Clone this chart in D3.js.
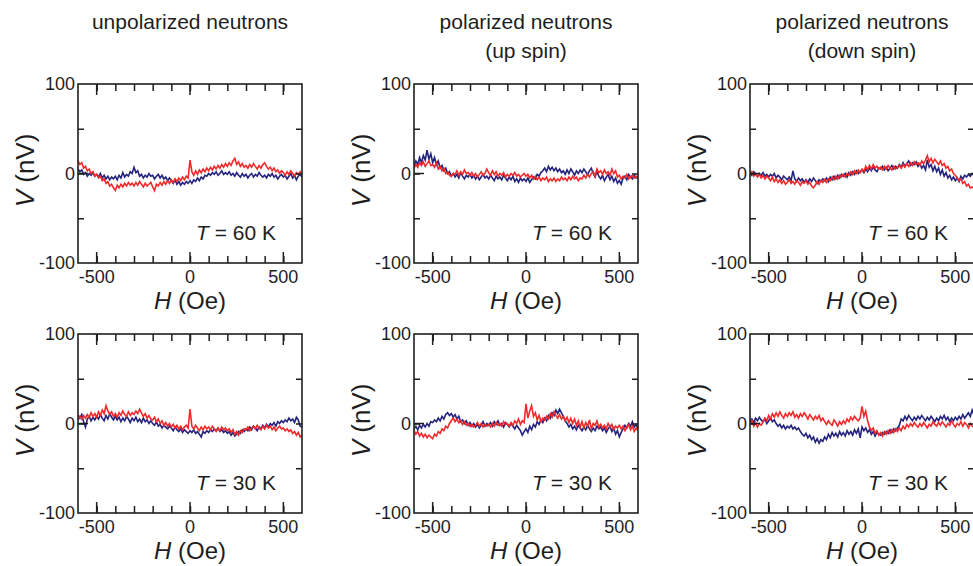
<!DOCTYPE html>
<html><head><meta charset="utf-8">
<script src="https://cdn.jsdelivr.net/npm/d3@7"></script>
<style>
html,body{margin:0;padding:0;background:#fff;}
svg{display:block;font-family:"Liberation Sans",Arial,sans-serif;}
</style></head>
<body><svg id="c" width="973" height="566"></svg>
<script>
// Field grid (Oe), sampled every 10 Oe from -600 to 600
const H = d3.range(-600, 601, 10);
const columnTitles = [["unpolarized neutrons"], ["polarized neutrons", "(up spin)"], ["polarized neutrons", "(down spin)"]];
const rowTemps = ["60", "30"];
const xTickLabels = [-500, 0, 500];
const yTickLabels = [100, 0, -100];

// V (nV) — blue and red traces per panel
const p1b = [5,2,4,-1,1,-3,0,-2,1,-3, -1,-4,0,-5,-2,-6,-3,-7,-4,-6, -3,-7,-2,-5,1,-4,-1,-3,2,0, 7,1,3,-3,-1,-5,-2,-4,0,-3, -2,-6,-3,-1,-5,-2,-6,-4,-8,-5, -8,-11,-7,-12,-9,-13,-10,-12,-9,-11, -8,-11,-7,-9,-5,-8,-4,-6,-2,-3, 0,-2,1,-1,2,-2,0,3,-1,1, -1,2,-2,0,-3,1,-2,-4,0,-3, -1,-5,-2,0,-4,-1,-3,1,-2,-4, -2,-5,-1,-3,0,-4,-2,-6,-3,-1, -4,-2,-6,-3,0,-5,-2,-7,-3,-1, -4];
const p1r = [14,10,12,6,8,3,5,0,2,-3, -1,-5,-3,-8,-6,-11,-9,-14,-12,-16, -19,-13,-16,-12,-15,-11,-14,-10,-13,-11, -14,-10,-13,-9,-12,-15,-11,-14,-12,-10, -15,-19,-12,-14,-10,-13,-9,-12,-8,-11, -7,-10,-6,-9,-5,-8,-4,-7,-3,-5, 15,2,-2,3,-1,4,1,5,2,6, 3,7,4,8,5,9,6,10,7,11, 8,12,9,14,17,10,13,8,11,7, 9,6,10,7,11,8,5,9,6,10, 12,8,5,7,3,6,2,4,0,3, 1,-2,2,-1,3,0,-3,1,-1,2, 0];
const p2b = [8,14,10,18,12,20,15,26,16,22, 12,18,10,14,6,9,3,6,0,2, -3,0,-4,-1,-5,1,-3,-6,-2,-4, -1,-5,-2,-6,-3,-7,-4,-1,-5,-3, -6,-2,-5,-8,-3,-6,-4,-7,-2,-5, -8,-4,-7,-3,-9,-6,-10,-5,-8,-6, -9,-5,-10,-7,-4,-6,-1,-3,1,3, 6,2,8,4,7,3,6,2,5,1, 3,-1,4,0,5,2,-2,3,0,4, 1,5,2,-1,3,6,0,-4,2,-3, -6,-2,-8,-4,-1,-7,-3,-9,-5,-11, -8,-12,-5,-3,-7,-1,-4,-6,-2,-5, -4];
const p2r = [6,10,7,12,9,13,8,11,14,9, 10,7,12,5,8,3,6,0,2,-2, -3,0,-1,3,-2,2,-1,4,0,1, -2,1,-3,0,-4,-1,2,-2,0,5, 1,-2,3,-1,2,-3,0,-2,1,-4, -1,-3,0,-2,1,-3,-1,-4,-2,0, -3,-1,-5,-2,-6,-3,-7,-4,-8,-5, -7,-4,-9,-6,-8,-5,-9,-6,-8,-4, -7,-5,-8,-4,-7,-3,-6,-4,-8,-5, -6,-2,-5,-1,-4,0,2,-3,5,1, 3,-1,4,0,2,-2,5,0,3,-4, -2,-6,-3,-5,-1,-6,-4,-2,-5,-3, -6];
const p3b = [1,-2,2,-1,-3,0,-2,1,-3,-1, -4,-1,-3,0,-5,-2,-4,-7,-3,-5, -7,-4,-8,3,-6,-9,-5,-8,-6,-10, -7,-10,-6,-9,-5,-8,-11,-7,-9,-6, -8,-5,-9,-4,-7,-3,-6,-2,-5,-1, -3,0,-4,1,-2,2,-1,3,0,2, 4,1,5,2,6,3,7,4,2,6, 5,8,4,7,3,6,9,5,8,6, 10,7,12,8,11,14,9,12,10,13, 8,11,6,9,4,15,7,10,3,8, 2,6,-1,4,-3,1,-5,-2,-7,-4, -8,-5,-9,-3,-6,-2,-4,-1,-3,0, -2];
const p3r = [-1,2,-3,0,-4,-1,-5,-2,-6,-3, -5,-8,-4,-9,-6,-10,-7,-11,-8,-12, -10,-7,-11,-9,-12,-8,-10,-13,-9,-11, -8,-12,-10,-14,-16,-13,-9,-12,-8,-10, -7,-10,-6,-8,-4,-7,-3,-6,-2,-4, -1,-4,0,-2,2,-1,3,0,4,1, 5,2,8,4,9,5,10,6,8,5, 7,4,8,5,9,6,4,8,5,7, 9,6,10,7,11,8,12,9,13,10, 12,9,14,11,15,20,13,17,12,16, 13,10,14,9,11,6,8,3,5,0, -2,-5,-8,-6,-11,-9,-14,-12,-16,-15, -17];
const p4b = [9,6,10,2,-4,5,8,3,7,4, 8,5,10,6,3,9,5,11,7,4, 8,4,7,2,6,3,8,5,1,6, 3,7,2,5,1,6,2,4,0,3, 0,-2,2,-3,-1,-5,-2,-4,-6,-3, -5,-8,-4,-7,-9,-6,-10,-7,-9,-11, -8,-10,-7,-11,-9,-12,-15,-9,-11,-8, -10,-7,-9,-6,-8,-5,-9,-7,-10,-8, -11,-9,-13,-10,-14,-12,-9,-11,-7,-9, -6,-8,-4,-7,-3,-5,-8,-4,-6,-2, -5,-1,-4,0,-2,1,-3,2,0,3, 1,4,2,6,3,5,1,7,4,-3, -4];
const p4r = [4,8,5,9,6,10,7,12,8,11, 7,13,9,15,11,20,14,10,13,8, 11,7,12,9,14,10,8,13,9,12, 10,14,11,16,12,8,11,6,9,5, 4,7,2,5,0,3,-2,1,-3,0, -4,-1,-5,-2,-6,-3,-7,-4,-2,-5, 16,-3,-6,-2,-5,-8,-4,-7,-3,-6, -4,-7,-3,-6,-9,-5,-8,-4,-7,-5, -8,-6,-10,-7,-12,-9,-13,-8,-10,-6, -7,-4,-8,-5,-3,-6,-2,-5,-7,-3, -6,-2,-5,-3,-7,-4,-8,-5,-3,-6, -5,-8,-6,-9,-7,-11,-9,-13,-10,-15, -13];
const p5b = [-6,-3,-7,-2,-5,-1,-4,0,-3,2, 1,4,2,6,3,8,5,10,12,9, 11,7,10,5,8,2,4,0,3,-2, 1,-3,0,-4,-1,-5,-2,2,-3,0, -2,1,-3,2,-1,3,-2,0,-4,1, -1,-4,0,-3,-6,-2,-5,-8,-13,-9, -6,-10,-3,-7,-1,-4,2,-1,4,1, 6,3,9,6,12,9,15,11,16,12, 8,3,0,-4,-1,-6,-3,-7,-2,-5, -8,-4,-7,-2,-6,-9,-5,-8,-3,-6, -4,-8,-5,-10,-6,-3,-9,-5,-12,-8, -15,-10,-6,-2,-5,0,-3,2,-4,-1, -6];
const p5r = [-8,-12,-9,-14,-11,-15,-12,-16,-13,-15, -17,-12,-14,-9,-11,-6,-8,-3,-5,0, 3,6,2,5,1,3,-1,2,-2,0, -3,-1,-4,-2,1,-3,0,-4,-1,-3, -1,-4,0,-3,1,-2,0,-3,2,-1, 0,-3,1,-2,3,0,5,-1,3,1, 22,6,14,20,8,12,4,9,2,6, 4,8,5,11,7,13,9,6,10,5, 8,3,7,1,6,0,5,-2,3,-4, 2,-5,1,-3,4,-6,0,-2,3,-4, -1,-5,-2,-6,0,-4,-1,-7,-3,-5, -2,-6,-3,-8,-4,-1,-7,-3,-9,-5, -8];
const p6b = [2,5,1,6,3,7,4,2,5,0, 3,6,2,4,0,-3,-1,-5,-2,-6, -3,-5,-2,-6,-4,-7,-5,-9,-12,-14, -11,-16,-13,-18,-15,-21,-17,-22,-18,-20, -15,-18,-12,-16,-10,-14,-11,-15,-9,-13, -10,-14,-8,-12,-9,-13,-7,-11,-6,-16, -4,-8,-5,-10,-7,-12,-9,-14,-10,-12, -13,-10,-12,-9,-11,-7,-10,-6,-8,-5, -2,5,3,8,4,9,6,3,7,4, 8,5,9,6,3,7,4,8,5,2, 6,3,8,5,9,4,7,2,6,3, 7,4,8,5,10,6,9,12,8,15, 9];
const p6r = [-2,3,-3,1,-4,0,-2,2,6,3, 9,5,11,7,12,8,13,9,6,11, 8,12,9,13,7,10,6,11,8,12, 9,5,10,7,4,8,5,9,3,6, 2,-1,3,0,-2,4,1,-3,2,-1, 3,0,5,2,7,4,8,5,3,6, 19,8,14,3,-4,-8,-5,-11,-8,-13, -10,-14,-9,-12,-8,-11,-7,-10,-6,-9, -5,-8,-3,-6,-1,-4,0,-3,1,-2, -4,0,-3,1,-2,-5,-1,-3,2,-1, -3,1,-2,2,-1,-4,0,-2,3,-1, -4,0,-2,2,-3,1,-1,-5,0,-3, -4];

const panels = [
  {row:0,col:0,blue:p1b,red:p1r},{row:0,col:1,blue:p2b,red:p2r},{row:0,col:2,blue:p3b,red:p3r},
  {row:1,col:0,blue:p4b,red:p4r},{row:1,col:1,blue:p5b,red:p5r},{row:1,col:2,blue:p6b,red:p6r}
];

const svg = d3.select("#c");
const colLeft = [78, 414, 750], rowTop = [84, 334], PW = 224, PH = 179;
const ink = "#1e1e1e", blueC = "#24247f", redC = "#f02a2a";

// column titles
columnTitles.forEach((lines, c) => {
  const cx = colLeft[c] + PW / 2;
  lines.forEach((t, i) => {
    svg.append("text").attr("x", cx).attr("y", 29 + i * 29).attr("text-anchor", "middle")
      .attr("font-size", 21).attr("fill", ink).text(t);
  });
});

panels.forEach((p, k) => {
  const L = colLeft[p.col], T = rowTop[p.row];
  const x = d3.scaleLinear().domain([-600, 600]).range([L, L + PW]);
  const y = d3.scaleLinear().domain([-100, 100]).range([T + PH, T]);
  const g = svg.append("g");
  const clipId = "clip" + k;
  svg.append("clipPath").attr("id", clipId).append("rect")
    .attr("x", L).attr("y", T).attr("width", PW).attr("height", PH);

  const line = d3.line().x((d, i) => x(H[i])).y(d => y(d));
  g.append("path").datum(p.blue).attr("d", line).attr("fill", "none")
    .attr("stroke", blueC).attr("stroke-width", 1.6).attr("clip-path", `url(#${clipId})`);
  g.append("path").datum(p.red).attr("d", line).attr("fill", "none")
    .attr("stroke", redC).attr("stroke-width", 1.6).attr("clip-path", `url(#${clipId})`);

  // axes with inward ticks
  const minorX = d3.range(-500, 501, 100);
  const axB = d3.axisBottom(x).tickValues(minorX).tickSize(-7).tickFormat("");
  const axT = d3.axisTop(x).tickValues(minorX).tickSize(-7).tickFormat("");
  const yTickVals = [-50, 0, 50];
  const axL = d3.axisLeft(y).tickValues(yTickVals).tickSize(-6).tickFormat("");
  const axR = d3.axisRight(y).tickValues(yTickVals).tickSize(-6).tickFormat("");
  [[axB, `translate(0,${T + PH})`], [axT, `translate(0,${T})`], [axL, `translate(${L},0)`], [axR, `translate(${L + PW},0)`]]
    .forEach(([ax, tr]) => {
      const a = g.append("g").attr("transform", tr).call(ax);
      a.select(".domain").remove();
      a.selectAll("line").attr("stroke", ink).attr("stroke-width", 1.5);
    });
  // longer major ticks at -500, 0, 500
  xTickLabels.forEach(v => {
    g.append("line").attr("x1", x(v)).attr("x2", x(v)).attr("y1", T + PH).attr("y2", T + PH - 11)
      .attr("stroke", ink).attr("stroke-width", 1.5);
    g.append("line").attr("x1", x(v)).attr("x2", x(v)).attr("y1", T).attr("y2", T + 11)
      .attr("stroke", ink).attr("stroke-width", 1.5);
  });
  g.append("line").attr("x1", L).attr("x2", L + 10).attr("y1", y(0)).attr("y2", y(0))
    .attr("stroke", ink).attr("stroke-width", 1.5);

  // frame
  g.append("rect").attr("x", L).attr("y", T).attr("width", PW).attr("height", PH)
    .attr("fill", "none").attr("stroke", ink).attr("stroke-width", 1.6);

  // tick labels
  xTickLabels.forEach(v => {
    g.append("text").attr("x", x(v)).attr("y", T + PH + 20).attr("text-anchor", "middle")
      .attr("font-size", 18).attr("fill", ink).text(v);
  });
  yTickLabels.forEach(v => {
    g.append("text").attr("x", L - 3).attr("y", y(v)).attr("dy", "0.35em").attr("text-anchor", "end")
      .attr("font-size", 18).attr("fill", ink).text(v);
  });

  // axis titles
  const ht = g.append("text").attr("x", L + PW / 2).attr("y", T + PH + 46).attr("text-anchor", "middle")
    .attr("font-size", 24).attr("fill", ink);
  ht.append("tspan").attr("font-style", "italic").text("H");
  ht.append("tspan").text(" (Oe)");

  const vt = g.append("text").attr("transform", `translate(${L - 44},${T + PH / 2 - 3}) rotate(-90)`)
    .attr("text-anchor", "middle").attr("font-size", 26).attr("fill", ink);
  vt.append("tspan").attr("font-style", "italic").text("V");
  vt.append("tspan").text(" (nV)");

  // temperature label
  const tt = g.append("text").attr("x", L + PW - 26).attr("y", T + 156).attr("text-anchor", "end")
    .attr("font-size", 21).attr("fill", ink);
  tt.append("tspan").attr("font-style", "italic").text("T");
  tt.append("tspan").text(` = ${rowTemps[p.row]} K`);
});
</script></body></html>
